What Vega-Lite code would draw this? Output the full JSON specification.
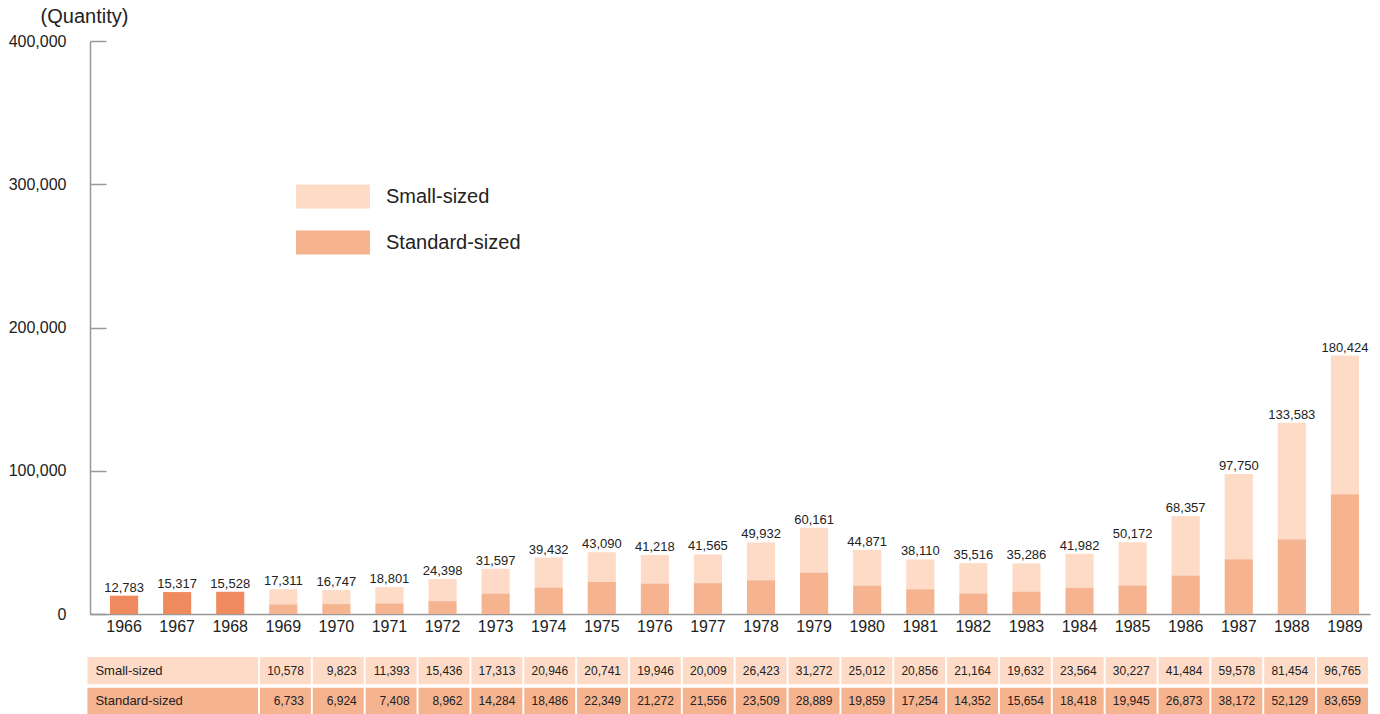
{
  "$schema": "https://vega.github.io/schema/vega-lite/v6.json",
  "background": "white",
  "padding": {"left": 8, "top": 6, "right": 5, "bottom": 0},
  "config": {
    "font": "Liberation Sans",
    "view": {"stroke": null},
    "text": {"color": "#222222"}
  },
  "datasets": {
    "units": [
      {"year": 1966, "type": "Total", "value": 12783},
      {"year": 1967, "type": "Total", "value": 15317},
      {"year": 1968, "type": "Total", "value": 15528},
      {"year": 1969, "type": "Small-sized", "value": 10578},
      {"year": 1969, "type": "Standard-sized", "value": 6733},
      {"year": 1970, "type": "Small-sized", "value": 9823},
      {"year": 1970, "type": "Standard-sized", "value": 6924},
      {"year": 1971, "type": "Small-sized", "value": 11393},
      {"year": 1971, "type": "Standard-sized", "value": 7408},
      {"year": 1972, "type": "Small-sized", "value": 15436},
      {"year": 1972, "type": "Standard-sized", "value": 8962},
      {"year": 1973, "type": "Small-sized", "value": 17313},
      {"year": 1973, "type": "Standard-sized", "value": 14284},
      {"year": 1974, "type": "Small-sized", "value": 20946},
      {"year": 1974, "type": "Standard-sized", "value": 18486},
      {"year": 1975, "type": "Small-sized", "value": 20741},
      {"year": 1975, "type": "Standard-sized", "value": 22349},
      {"year": 1976, "type": "Small-sized", "value": 19946},
      {"year": 1976, "type": "Standard-sized", "value": 21272},
      {"year": 1977, "type": "Small-sized", "value": 20009},
      {"year": 1977, "type": "Standard-sized", "value": 21556},
      {"year": 1978, "type": "Small-sized", "value": 26423},
      {"year": 1978, "type": "Standard-sized", "value": 23509},
      {"year": 1979, "type": "Small-sized", "value": 31272},
      {"year": 1979, "type": "Standard-sized", "value": 28889},
      {"year": 1980, "type": "Small-sized", "value": 25012},
      {"year": 1980, "type": "Standard-sized", "value": 19859},
      {"year": 1981, "type": "Small-sized", "value": 20856},
      {"year": 1981, "type": "Standard-sized", "value": 17254},
      {"year": 1982, "type": "Small-sized", "value": 21164},
      {"year": 1982, "type": "Standard-sized", "value": 14352},
      {"year": 1983, "type": "Small-sized", "value": 19632},
      {"year": 1983, "type": "Standard-sized", "value": 15654},
      {"year": 1984, "type": "Small-sized", "value": 23564},
      {"year": 1984, "type": "Standard-sized", "value": 18418},
      {"year": 1985, "type": "Small-sized", "value": 30227},
      {"year": 1985, "type": "Standard-sized", "value": 19945},
      {"year": 1986, "type": "Small-sized", "value": 41484},
      {"year": 1986, "type": "Standard-sized", "value": 26873},
      {"year": 1987, "type": "Small-sized", "value": 59578},
      {"year": 1987, "type": "Standard-sized", "value": 38172},
      {"year": 1988, "type": "Small-sized", "value": 81454},
      {"year": 1988, "type": "Standard-sized", "value": 52129},
      {"year": 1989, "type": "Small-sized", "value": 96765},
      {"year": 1989, "type": "Standard-sized", "value": 83659}
    ],
    "rowLabels": [
      {"row": "Small-sized", "first": 1966, "last": 1968},
      {"row": "Standard-sized", "first": 1966, "last": 1968}
    ]
  },
  "resolve": {"scale": {"x": "independent", "y": "independent", "color": "independent"}},
  "spacing": 23,
  "vconcat": [
    {
      "width": 1280,
      "height": 573,
      "data": {"name": "units"},
      "layer": [
        {
          "mark": {"type": "bar"},
          "encoding": {
            "x": {
              "field": "year",
              "type": "ordinal",
              "scale": {
                "domain": [1966, 1967, 1968, 1969, 1970, 1971, 1972, 1973, 1974, 1975, 1976, 1977, 1978, 1979, 1980, 1981, 1982, 1983, 1984, 1985, 1986, 1987, 1988, 1989],
                "paddingInner": 0.47,
                "paddingOuter": 0.292,
                "align": 0.645
              },
              "axis": {
                "title": null,
                "labelAngle": 0,
                "labelFontSize": 16,
                "labelColor": "#222222",
                "ticks": false,
                "labelPadding": 4,
                "domainColor": "#999999",
                "domainWidth": 1.5
              }
            },
            "y": {
              "field": "value",
              "type": "quantitative",
              "stack": "zero",
              "scale": {"domain": [0, 400000], "nice": false},
              "axis": {
                "title": "(Quantity)",
                "titleAngle": 0,
                "titleX": -6,
                "titleY": -25,
                "titleAlign": "center",
                "titleBaseline": "middle",
                "titleFontSize": 20,
                "titleFontWeight": "normal",
                "titleColor": "#222222",
                "values": [0, 100000, 200000, 300000, 400000],
                "format": ",.0f",
                "labelFontSize": 16,
                "labelColor": "#222222",
                "labelPadding": 40,
                "tickSize": -16,
                "tickColor": "#999999",
                "tickWidth": 1.5,
                "domainColor": "#999999",
                "domainWidth": 1.5,
                "grid": false
              }
            },
            "color": {
              "field": "type",
              "type": "nominal",
              "scale": {
                "domain": ["Small-sized", "Standard-sized", "Total"],
                "range": ["#FDDBC7", "#F6B390", "#EF8A5E"]
              },
              "legend": {
                "values": ["Small-sized", "Standard-sized"],
                "orient": "none",
                "legendX": 224.5,
                "legendY": 137,
                "title": null,
                "padding": 0,
                "symbolType": "M-2,-0.648H2V0.648H-2Z",
                "symbolSize": 1369,
                "symbolStrokeWidth": 0,
                "symbolOpacity": 1,
                "labelFontSize": 20,
                "labelColor": "#222222",
                "labelOffset": 34.5,
                "rowPadding": 15
              }
            },
            "order": {"field": "type", "sort": "descending"}
          }
        },
        {
          "transform": [
            {"aggregate": [{"op": "sum", "field": "value", "as": "total"}], "groupby": ["year"]}
          ],
          "mark": {"type": "text", "baseline": "alphabetic", "dy": -4, "fontSize": 13, "color": "#222222"},
          "encoding": {
            "x": {"field": "year", "type": "ordinal"},
            "y": {"field": "total", "type": "quantitative"},
            "text": {"field": "total", "type": "quantitative", "format": ","}
          }
        }
      ]
    },
    {
      "width": 1280,
      "height": 58,
      "layer": [
        {
          "data": {"name": "units"},
          "transform": [{"filter": "datum.type !== 'Total'"}],
          "mark": {"type": "rect"},
          "encoding": {
            "x": {
              "field": "year",
              "type": "ordinal",
              "scale": {
                "domain": [1966, 1967, 1968, 1969, 1970, 1971, 1972, 1973, 1974, 1975, 1976, 1977, 1978, 1979, 1980, 1981, 1982, 1983, 1984, 1985, 1986, 1987, 1988, 1989],
                "paddingInner": 0.037,
                "paddingOuter": 0.127,
                "align": 0.85
              },
              "axis": null
            },
            "y": {
              "field": "type",
              "type": "nominal",
              "scale": {"domain": ["Small-sized", "Standard-sized"], "paddingInner": 0.12, "paddingOuter": 0},
              "axis": null
            },
            "color": {
              "field": "type",
              "type": "nominal",
              "scale": {"domain": ["Small-sized", "Standard-sized"], "range": ["#FDDBC7", "#F6B390"]},
              "legend": null
            }
          }
        },
        {
          "data": {"name": "units"},
          "transform": [{"filter": "datum.type !== 'Total'"}],
          "mark": {"type": "text", "align": "right", "dx": -7, "fontSize": 12, "color": "#222222"},
          "encoding": {
            "x": {"field": "year", "type": "ordinal", "bandPosition": 1},
            "y": {"field": "type", "type": "nominal"},
            "text": {"field": "value", "type": "quantitative", "format": ","}
          }
        },
        {
          "data": {"name": "rowLabels"},
          "mark": {"type": "rect", "xOffset": -14},
          "encoding": {
            "x": {"field": "first", "type": "ordinal", "bandPosition": 0},
            "x2": {"field": "last", "bandPosition": 1},
            "y": {"field": "row", "type": "nominal"},
            "color": {"field": "row", "type": "nominal", "legend": null}
          }
        },
        {
          "data": {"name": "rowLabels"},
          "mark": {"type": "text", "align": "left", "dx": -6, "fontSize": 13, "color": "#222222"},
          "encoding": {
            "x": {"field": "first", "type": "ordinal", "bandPosition": 0},
            "y": {"field": "row", "type": "nominal"},
            "text": {"field": "row"}
          }
        }
      ]
    }
  ]
}
